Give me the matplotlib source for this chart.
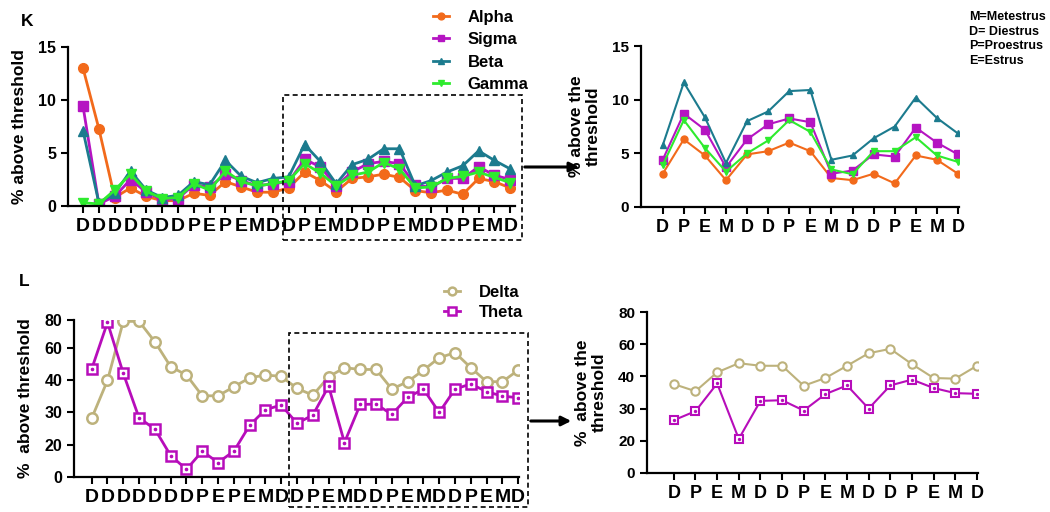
import numpy as np
import matplotlib
matplotlib.use("Agg")
import matplotlib.pyplot as plt
from matplotlib.patches import Rectangle, FancyArrowPatch

plt.rcParams['font.family'] = ['Liberation Sans', 'DejaVu Sans']
plt.rcParams['font.weight'] = 'bold'

W, H = 1050, 512

# ---- data (K) ----
stage_long = list("DDDDDDDPEPEMD") + list("DPEMDDPEMDDPEMD")
stage_short = list("DPEMDDPEMDDPEMD")

alpha = [13.0, 7.3, 0.8, 1.7, 0.9, 0.5, 0.5, 1.2, 1.0, 2.3, 1.8, 1.3, 1.3,
         1.7, 3.2, 2.4, 1.35, 2.6, 2.75, 3.0, 2.7, 1.45, 1.25, 1.5, 1.1, 2.6, 2.3, 1.7]
sigma = [9.4, 0.2, 0.9, 2.5, 1.3, 0.6, 0.7, 2.0, 1.8, 3.0, 2.4, 1.9, 2.1,
         2.3, 4.4, 3.7, 1.9, 3.2, 4.0, 4.2, 4.0, 2.0, 1.75, 2.6, 2.6, 3.7, 2.9, 2.5]
beta = [7.1, 0.3, 1.2, 3.3, 1.5, 0.8, 1.0, 2.3, 2.0, 4.3, 2.8, 2.2, 2.6,
        2.75, 5.8, 4.2, 2.1, 3.9, 4.4, 5.4, 5.4, 1.9, 2.4, 3.2, 3.8, 5.2, 4.3, 3.5]
gamma = [0.3, 0.2, 1.5, 3.0, 1.4, 0.7, 0.8, 2.1, 1.5, 3.3, 2.3, 1.9, 2.1,
         2.4, 4.0, 3.1, 1.9, 2.9, 3.2, 4.1, 3.5, 1.7, 1.8, 2.6, 2.8, 3.2, 2.7, 2.2]

alpha_z = [3.1, 6.3, 4.8, 2.5, 4.9, 5.2, 6.0, 5.2, 2.7, 2.5, 3.1, 2.2, 4.8, 4.4, 3.1]
sigma_z = [4.4, 8.7, 7.2, 3.7, 6.3, 7.7, 8.25, 7.9, 3.1, 3.4, 4.9, 4.7, 7.4, 6.0, 4.9]
beta_z = [5.75, 11.6, 8.35, 4.1, 8.0, 8.9, 10.8, 10.9, 4.4, 4.8, 6.4, 7.5, 10.2, 8.3, 6.85]
gamma_z = [3.9, 8.1, 5.5, 3.3, 5.0, 6.2, 8.1, 7.0, 3.5, 3.05, 5.2, 5.2, 6.5, 4.8, 4.2]

# ---- data (L) ----
delta = [28.2, 40, 79, 79, 64.3, 48.4, 43.3, 35.2, 35.2, 38, 41.6, 43.3, 42.5,
         37.5, 35.4, 42.2, 47.8, 46.7, 46.7, 37.3, 39.6, 46.3, 53.9, 57, 47.8, 39.6, 39.6, 46.3]
theta = [47, 78.3, 44.3, 28.3, 24.8, 13.2, 4.7, 15.9, 8.9, 15.9, 26.0, 30.9, 32.3,
         26.6, 29.2, 38.2, 20.6, 32.5, 32.6, 29.4, 34.7, 37.3, 30, 37.3, 38.9, 36.5, 35.1, 34.6]

delta_z = [37.6, 35.4, 42.5, 48.2, 46.6, 46.6, 37.1, 39.5, 46.6, 54.4, 57.1, 47.6, 39.5, 39.3, 46.6]
theta_z = [26.4, 29.2, 37.8, 20.6, 32.4, 32.6, 29.4, 34.5, 37.2, 30, 37.2, 39, 36.4, 34.8, 34.6]

k_ticks = [0, 5, 10, 15]
l_ticks = [0, 20, 30, 40, 60, 80]

c_alpha = '#F26A1B'
c_sigma = '#B514C2'
c_beta = '#1C7B8E'
c_gamma = '#2EEB2E'
c_delta = '#BDB27C'
c_theta = '#B70DBA'


def rect(l, t, r, b):
    return [l / W, 1 - b / H, (r - l) / W, (b - t) / H]


def style(ax, labels, xfs, yfs):
    for s in ['top', 'right']:
        ax.spines[s].set_visible(False)
    for s in ['left', 'bottom']:
        ax.spines[s].set_linewidth(1.6)
    ax.set_xticks(range(len(labels)))
    ax.set_xticklabels(labels, fontsize=xfs, fontweight='bold')
    ax.tick_params(axis='both', direction='out', length=5, width=1.5)
    ax.tick_params(axis='y', labelsize=yfs)
    for t in ax.get_yticklabels():
        t.set_fontweight('bold')


def lscale(ax, pos):
    fwd = lambda v: np.interp(v, l_ticks, pos)
    inv = lambda p: np.interp(p, pos, l_ticks)
    ax.set_yscale('function', functions=(fwd, inv))
    ax.yaxis.set_minor_locator(plt.NullLocator())
    ax.set_yticks(l_ticks)
    ax.set_yticklabels([str(v) for v in l_ticks])


fig = plt.figure(figsize=(W / 100, H / 100), dpi=100)

# K left
ax1 = fig.add_axes(rect(68, 47, 515, 206))
x = np.arange(len(stage_long))
la, = ax1.plot(x, alpha, '-o', color=c_alpha, lw=2, ms=7, label='Alpha')
ls, = ax1.plot(x, sigma, '-s', color=c_sigma, lw=2, ms=7, label='Sigma')
lb, = ax1.plot(x, beta, '-^', color=c_beta, lw=2, ms=7, label='Beta')
lg, = ax1.plot(x, gamma, '-v', color=c_gamma, lw=2, ms=7, label='Gamma')
ax1.set_xlim(-0.95, 27.3)
ax1.set_ylim(0, 15)
ax1.set_yticks(k_ticks)
style(ax1, stage_long, 14, 11.5)
ax1.set_ylabel('% above threshold', fontsize=12.5, fontweight='bold', labelpad=8)

# K right
ax2 = fig.add_axes(rect(641, 46, 959, 207))
xz = np.arange(len(stage_short))
ax2.plot(xz, alpha_z, '-o', color=c_alpha, lw=1.5, ms=5)
ax2.plot(xz, sigma_z, '-s', color=c_sigma, lw=1.5, ms=5.5)
ax2.plot(xz, beta_z, '-^', color=c_beta, lw=1.5, ms=5)
ax2.plot(xz, gamma_z, '-v', color=c_gamma, lw=1.5, ms=5)
ax2.set_xlim(-1.03, 14.05)
ax2.set_ylim(0, 15)
ax2.set_yticks(k_ticks)
style(ax2, stage_short, 13, 11)
ax2.set_ylabel('% above the\nthreshold', fontsize=12.5, fontweight='bold', labelpad=8)

fig.legend([la, ls, lb, lg], ['Alpha', 'Sigma', 'Beta', 'Gamma'],
           loc='upper left', bbox_to_anchor=(421 / W, 1 + 2 / H), frameon=False,
           fontsize=12, handlelength=1.0, handletextpad=1.1, labelspacing=0.45,
           markerscale=0.7, borderpad=0.2)

# L left
ax3 = fig.add_axes(rect(74, 320, 519, 477))
x = np.arange(len(stage_long))
ld, = ax3.plot(x, delta, '-o', color=c_delta, lw=2, ms=7.5, mfc='white', mew=1.8, label='Delta')
lt, = ax3.plot(x, theta, '-s', color=c_theta, lw=2, ms=7.5, mfc='white', mew=1.8, label='Theta')
ax3.plot(x, theta, 'o', color=c_theta, ms=1.6, ls='none')
lscale(ax3, [0, 32.4, 64.4, 96.4, 129, 156.7])
ax3.set_ylim(0, 80)
ax3.set_xlim(-1.12, 27.05)
style(ax3, stage_long, 14, 11.5)
ax3.set_ylabel('%  above threshold', fontsize=12.5, fontweight='bold', labelpad=8)

# L right
ax4 = fig.add_axes(rect(647, 312, 978, 473))
xz = np.arange(len(stage_short))
ax4.plot(xz, delta_z, '-o', color=c_delta, lw=1.5, ms=6, mfc='white', mew=1.5)
ax4.plot(xz, theta_z, '-s', color=c_theta, lw=1.5, ms=6, mfc='white', mew=1.5)
ax4.plot(xz, theta_z, 'o', color=c_theta, ms=1.4, ls='none')
lscale(ax4, [0, 1, 2, 3, 4, 5])
ax4.set_ylim(0, 80)
ax4.set_xlim(-1.24, 14.05)
style(ax4, stage_short, 13, 11)
ax4.set_ylabel('%  above the\nthreshold', fontsize=12.5, fontweight='bold', labelpad=8)

fig.legend([ld, lt], ['Delta', 'Theta'], loc='upper left',
           bbox_to_anchor=(432 / W, 1 - 273 / H), frameon=False,
           fontsize=12, handlelength=1.0, handletextpad=1.1, labelspacing=0.3,
           markerscale=0.75, borderpad=0.2)

# dashed zoom boxes
for (l, t, r, b) in [(283, 95, 522, 240), (289, 333, 528, 507)]:
    fig.add_artist(Rectangle((l / W, 1 - b / H), (r - l) / W, (b - t) / H,
                             transform=fig.transFigure, fill=False,
                             ls=(0, (3, 2)), lw=1.2, color='black'))

# arrows
for (x0, x1, y) in [(522, 582, 167), (528, 574, 421)]:
    fig.add_artist(FancyArrowPatch((x0 / W, 1 - y / H), (x1 / W, 1 - y / H),
                                   transform=fig.transFigure, arrowstyle='-|>',
                                   mutation_scale=14, lw=2.2, color='black'))

fig.text(27 / W, 1 - 22 / H, 'K', fontsize=12.5, fontweight='bold', ha='center', va='center')
fig.text(24 / W, 1 - 282 / H, 'L', fontsize=12.5, fontweight='bold', ha='center', va='center')
fig.text(969 / W, 1 - 11 / H, 'M=Metestrus\nD= Diestrus\nP=Proestrus\nE=Estrus',
         fontsize=9, fontweight='bold', ha='left', va='top', linespacing=1.3)

fig.savefig('out.png', dpi=100)
